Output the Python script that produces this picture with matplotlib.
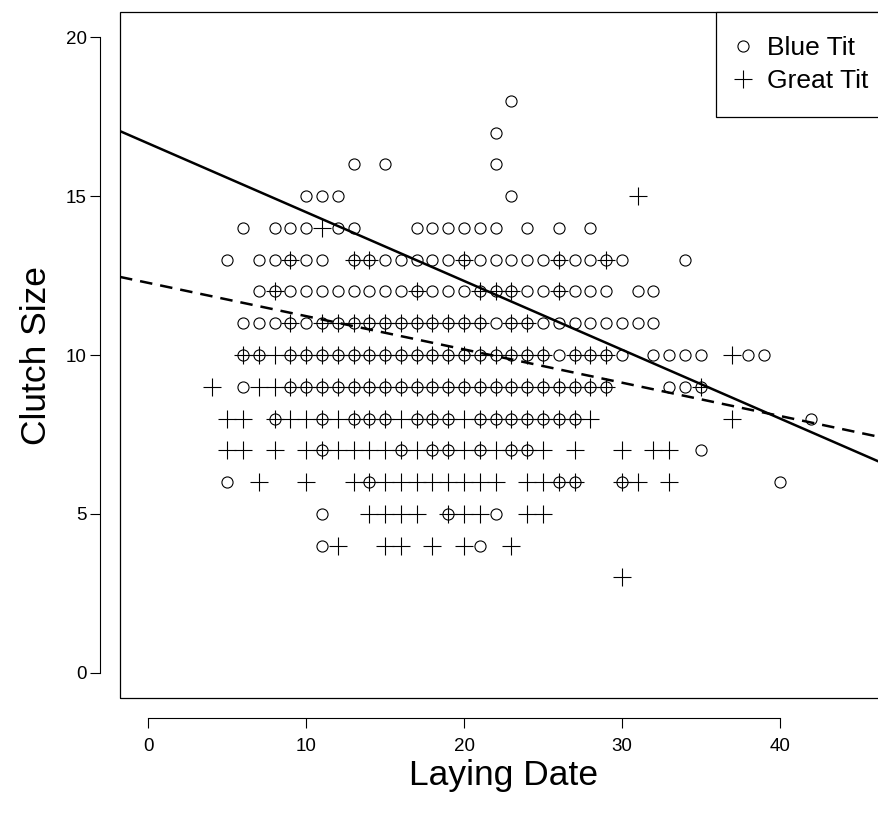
import numpy as np
import matplotlib
matplotlib.use("Agg")
import matplotlib.pyplot as plt
from matplotlib.patches import Rectangle

plt.rcParams['font.family'] = ['Liberation Sans', 'DejaVu Sans']

# Blue Tit: laying dates observed at each clutch size
blue_18 = [23]
blue_17 = [22]
blue_16 = [13, 15, 22]
blue_15 = [10, 11, 12, 23]
blue_14 = [6, 8, 9, 10, 12, 13, 17, 18, 19, 20, 21, 22, 24, 26, 28]
blue_13 = [5, 7, 8, 9, 10, 11, 13, 14, 15, 16, 17, 18, 19, 20, 21, 22, 23, 24, 25, 26, 27, 28, 29, 30, 34]
blue_12 = [7, 8, 9, 10, 11, 12, 13, 14, 15, 16, 17, 18, 19, 20, 21, 22, 23, 24, 25, 26, 27, 28, 29, 31, 32]
blue_11 = [6, 7, 8, 9, 10, 11, 12, 13, 14, 15, 16, 17, 18, 19, 20, 21, 22, 23, 24, 25, 26, 27, 28, 29, 30, 31, 32]
blue_10 = [6, 7, 9, 10, 11, 12, 13, 14, 15, 16, 17, 18, 19, 20, 21, 22, 23, 24, 25, 26, 27, 28, 29, 30, 32, 33, 34, 35, 38, 39]
blue_9 = [6, 9, 10, 11, 12, 13, 14, 15, 16, 17, 18, 19, 20, 21, 22, 23, 24, 25, 26, 27, 28, 29, 33, 34, 35]
blue_8 = [8, 11, 13, 14, 15, 17, 18, 19, 21, 22, 23, 24, 25, 26, 27, 42]
blue_7 = [11, 16, 18, 19, 21, 23, 24, 35]
blue_6 = [5, 14, 26, 27, 30, 40]
blue_5 = [11, 19, 22]
blue_4 = [11, 21]

# Great Tit
great_15 = [31]
great_14 = [11]
great_13 = [9, 13, 14, 20, 26, 29]
great_12 = [8, 17, 21, 22, 23, 26]
great_11 = [9, 11, 12, 13, 14, 15, 16, 17, 18, 19, 20, 21, 23, 24]
great_10 = [6, 7, 8, 9, 10, 11, 12, 13, 14, 15, 16, 17, 18, 19, 20, 21, 22, 23, 24, 25, 27, 28, 29, 37]
great_9 = [4, 7, 8, 9, 10, 11, 12, 13, 14, 15, 16, 17, 18, 19, 20, 21, 22, 23, 24, 25, 26, 27, 28, 29, 35]
great_8 = [5, 6, 8, 9, 10, 11, 12, 13, 14, 15, 16, 17, 18, 19, 20, 21, 22, 23, 24, 25, 26, 27, 28, 37]
great_7 = [5, 6, 8, 10, 11, 12, 13, 14, 15, 16, 17, 18, 19, 20, 21, 22, 23, 24, 25, 27, 30, 32, 33]
great_6 = [7, 10, 13, 14, 15, 16, 17, 18, 19, 20, 21, 22, 24, 25, 26, 27, 30, 31, 33]
great_5 = [14, 15, 16, 17, 19, 20, 21, 24, 25]
great_4 = [12, 15, 16, 18, 20, 23]
great_3 = [30]

# fitted lines (intercept, slope)
blue_fit = [16.66, -0.2164]
great_fit = [12.27, -0.1047]

blue_rows = {18: blue_18, 17: blue_17, 16: blue_16, 15: blue_15, 14: blue_14,
             13: blue_13, 12: blue_12, 11: blue_11, 10: blue_10, 9: blue_9,
             8: blue_8, 7: blue_7, 6: blue_6, 5: blue_5, 4: blue_4}
great_rows = {15: great_15, 14: great_14, 13: great_13, 12: great_12, 11: great_11,
              10: great_10, 9: great_9, 8: great_8, 7: great_7, 6: great_6,
              5: great_5, 4: great_4, 3: great_3}


def flatten(rows):
    xs, ys = [], []
    for size, dates in rows.items():
        xs += dates
        ys += [size] * len(dates)
    return np.array(xs), np.array(ys)


bx, by = flatten(blue_rows)
gx, gy = flatten(great_rows)

fig = plt.figure(figsize=(8.79, 8.13), dpi=100)
ax = fig.add_axes([120 / 879, 115 / 813, 767 / 879, 686 / 813])
ax.set_xlim(-1.8, 46.8)
ax.set_ylim(-0.8, 20.8)

ax.plot(bx, by, linestyle='none', marker='o', markersize=8, markerfacecolor='none',
        markeredgecolor='black', markeredgewidth=0.8, label='Blue Tit')
ax.plot(gx, gy, linestyle='none', marker='+', markersize=12.5,
        markeredgecolor='black', markeredgewidth=0.8, label='Great Tit')

ax.axline((0, blue_fit[0]), slope=blue_fit[1], color='black', lw=1.8)
ax.axline((0, great_fit[0]), slope=great_fit[1], color='black', lw=1.8,
          linestyle=(0, (5, 3.2)))

# R style axes
for s in ['top', 'right']:
    ax.spines[s].set_visible(False)
ax.spines['left'].set_position(('outward', 14.4))
ax.spines['bottom'].set_position(('outward', 14.4))
ax.spines['left'].set_bounds(0, 20)
ax.spines['bottom'].set_bounds(0, 40)
ax.add_patch(Rectangle((0, 0), 1, 1, transform=ax.transAxes, fill=False,
                       edgecolor='black', lw=0.9, clip_on=False))
ax.set_xticks([0, 10, 20, 30, 40])
ax.set_yticks([0, 5, 10, 15, 20])
ax.tick_params(direction='out', length=7, width=0.8, labelsize=13.5)
ax.tick_params(axis='x', pad=7.5)
ax.tick_params(axis='y', pad=2.5)

ax.set_xlabel('Laying Date', fontsize=25.5, labelpad=3)
ax.set_ylabel('Clutch Size', fontsize=25.5, labelpad=9)

leg = ax.legend(loc='upper right', bbox_to_anchor=(1.0063, 1.0),
                borderaxespad=0, fancybox=False, edgecolor='black', fontsize=19,
                handletextpad=0.78, borderpad=0.9, labelspacing=0.36,
                handlelength=0.25)
leg.get_frame().set_linewidth(0.9)
leg.get_frame().set_alpha(1)

fig.savefig('out.png', dpi=100)
